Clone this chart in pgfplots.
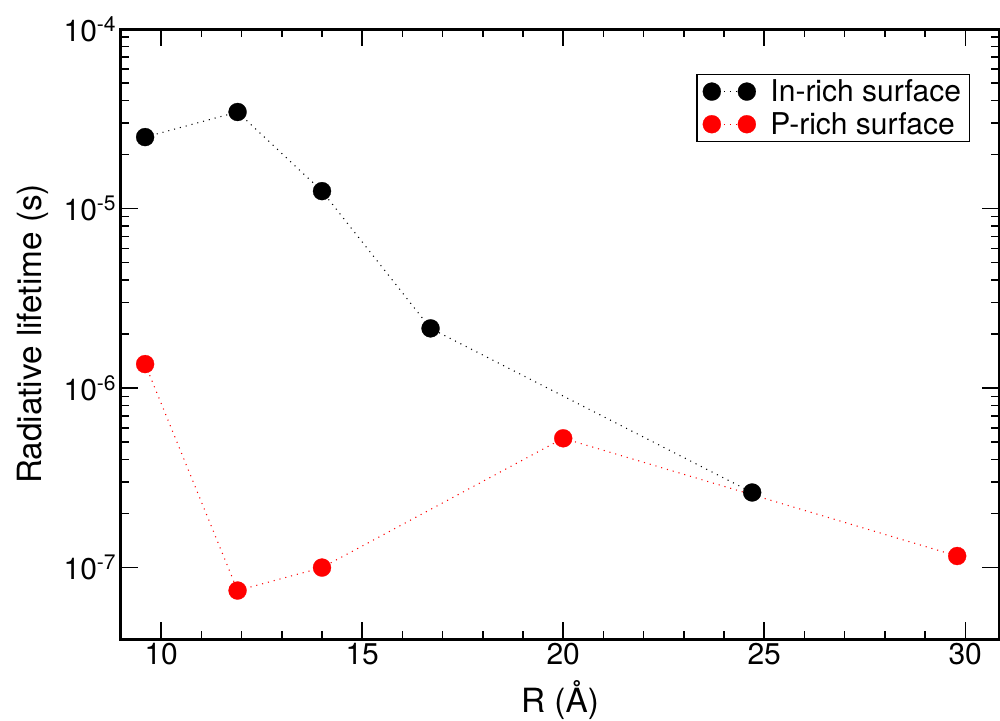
\documentclass[border=0pt]{standalone}
\usepackage{fontspec}
\setmainfont{TeX Gyre Heros}
\usepackage{pgfplots}
\pgfplotsset{compat=1.18}
\begin{document}
\begin{tikzpicture}[x=0.75pt,y=0.75pt]
\begin{axis}[
  at={(0,0)}, anchor=south west,
  scale only axis, width=658.5pt, height=457.5pt,
  xmin=9, xmax=30.84,
  ymode=log, ymin=4e-8, ymax=1e-4,
  xtick={10,15,20,25,30}, minor x tick num=4,
  ytick={1e-7,1e-6,1e-5,1e-4},
  yticklabels={10\textsuperscript{-7},10\textsuperscript{-6},10\textsuperscript{-5},10\textsuperscript{-4}},
  /pgf/number format/assume math mode=true,
  tick align=inside,
  axis line style={line width=2.25pt},
  every tick/.style={black, line width=1.1pt},
  major tick length=12.75pt, minor tick length=6pt,
  ticklabel style={font=\fontsize{22.5}{27}\selectfont},
  xlabel={R (Å)}, ylabel={Radiative lifetime (s)},
  label style={font=\fontsize{25}{30}\selectfont},
  xlabel style={at={(axis description cs:0.5,-0.1197)}, anchor=base},
  ylabel style={at={(axis description cs:-0.09,0.5)}, anchor=base, rotate=0},
  legend style={at={(axis description cs:0.655,0.927)}, anchor=north west,
    draw=black, line width=1.1pt, inner xsep=4.5pt, column sep=9pt, row sep=2.5pt,
    font=\fontsize{22.5}{27}\selectfont},
  legend cell align=left,
  legend image code/.code={
    \draw[#1] plot coordinates {(0pt,0pt) (26.25pt,0pt)};
  },
  clip=false,
]
% In-rich surface
\addplot[black, line width=0.8pt, dash pattern=on 0.8pt off 3.7pt,
  mark=*, mark size=6.75pt, mark options={solid, line width=0.2pt}] coordinates {
  (9.6, 2.5e-5)
  (11.9, 3.45e-5)
  (14.0, 1.25e-5)
  (16.7, 2.15e-6)
  (24.7, 2.62e-7)
};
\addlegendentry{In-rich surface}
% P-rich surface
\addplot[red, line width=0.8pt, dash pattern=on 0.8pt off 3.7pt,
  mark=*, mark size=6.75pt, mark options={solid, line width=0.2pt}] coordinates {
  (9.6, 1.36e-6)
  (11.9, 7.45e-8)
  (14.0, 1.0e-7)
  (20.0, 5.25e-7)
  (29.8, 1.16e-7)
};
\addlegendentry{P-rich surface}
\end{axis}
\pgfresetboundingbox
\useasboundingbox (-121,-82) rectangle (879,639);
\end{tikzpicture}
\end{document}
